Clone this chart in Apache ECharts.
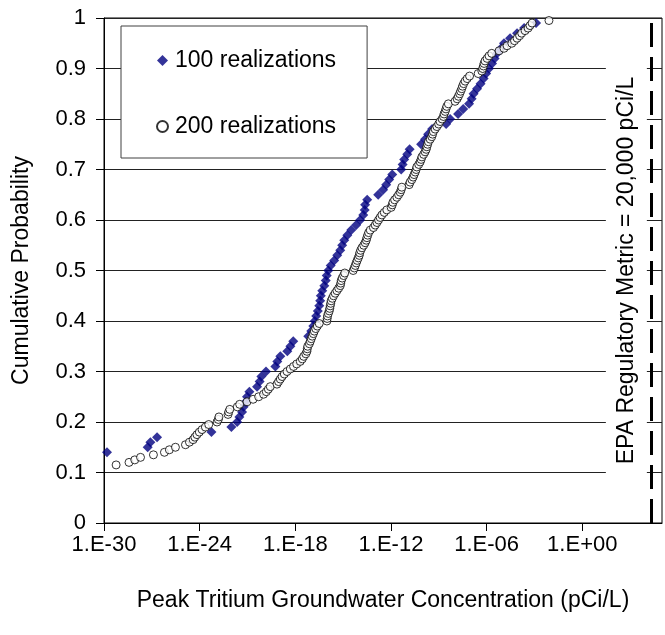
<!DOCTYPE html>
<html>
<head>
<meta charset="utf-8">
<script src="https://cdn.jsdelivr.net/npm/echarts@6/dist/echarts.min.js"></script>
<style>
html,body{margin:0;padding:0;background:#fff;}
#chart{width:665px;height:635px;}
</style>
</head>
<body>
<div id="chart"></div>
<script>
// x values are log10 of Peak Tritium Groundwater Concentration (pCi/L)
const xTickExponents = [-30, -24, -18, -12, -6, 0];
const yTicks = [0, 0.1, 0.2, 0.3, 0.4, 0.5, 0.6, 0.7, 0.8, 0.9, 1];
const epaLimit = 20000; // pCi/L
const seriesNames = ['100 realizations', '200 realizations'];

// 100 realizations
const set100P = [
  0.14, 0.15, 0.16, 0.17, 0.18, 0.19,
  0.20, 0.21, 0.22, 0.23, 0.24, 0.25, 0.26, 0.27, 0.28, 0.29,
  0.30, 0.31, 0.32, 0.33, 0.34, 0.35, 0.36, 0.37, 0.38, 0.39,
  0.40, 0.41, 0.42, 0.43, 0.44, 0.45, 0.46, 0.47, 0.48, 0.49,
  0.50, 0.51, 0.52, 0.53, 0.54, 0.55, 0.56, 0.57, 0.58, 0.59,
  0.60, 0.61, 0.62, 0.63, 0.64, 0.65, 0.66, 0.67, 0.68, 0.69,
  0.70, 0.71, 0.72, 0.73, 0.74, 0.75, 0.76, 0.77, 0.78, 0.79,
  0.80, 0.81, 0.82, 0.83, 0.84, 0.85, 0.86, 0.87, 0.88, 0.89,
  0.90, 0.91, 0.92, 0.93, 0.94, 0.95, 0.96, 0.97, 0.98, 0.99
];
const set100X = [
  -29.81, -27.26, -27.09, -26.67, -23.26, -22.01,
  -21.65, -21.51, -21.34, -21.24, -21.10, -21.03, -20.88, -20.40, -20.24, -20.13,
  -19.84, -19.25, -19.13, -18.94, -18.50, -18.31, -18.13, -17.19, -17.00, -16.87,
  -16.78, -16.69, -16.59, -16.50, -16.44, -16.40, -16.31, -16.18, -16.09, -16.03,
  -15.93, -15.78, -15.56, -15.37, -15.18, -15.06, -14.93, -14.74, -14.49, -14.18,
  -13.93, -13.74, -13.65, -13.62, -13.49, -12.80, -12.49, -12.30, -12.11, -11.92,
  -11.36, -11.27, -11.17, -10.98, -10.83, -10.11, -9.86, -9.67, -9.42, -8.54,
  -8.29, -7.79, -7.47, -7.10, -6.94, -6.82, -6.60, -6.38, -6.19, -6.03,
  -5.85, -5.66, -5.50, -5.34, -5.09, -4.91, -4.53, -4.09, -3.65, -2.90
];

// 200 realizations
const set200P = [
  0.115, 0.120, 0.125, 0.130, 0.135, 0.140, 0.145, 0.150, 0.155, 0.160, 0.165, 0.170, 0.175, 0.180, 0.185, 0.190, 0.195,
  0.200, 0.205, 0.210, 0.215, 0.220, 0.225, 0.230, 0.235, 0.240, 0.245, 0.250, 0.255, 0.260, 0.265, 0.270, 0.275, 0.280, 0.285, 0.290, 0.295,
  0.300, 0.305, 0.310, 0.315, 0.320, 0.325, 0.330, 0.335, 0.340, 0.345, 0.350, 0.355, 0.360, 0.365, 0.370, 0.375, 0.380, 0.385, 0.390, 0.395,
  0.400, 0.405, 0.410, 0.415, 0.420, 0.425, 0.430, 0.435, 0.440, 0.445, 0.450, 0.455, 0.460, 0.465, 0.470, 0.475, 0.480, 0.485, 0.490, 0.495,
  0.500, 0.505, 0.510, 0.515, 0.520, 0.525, 0.530, 0.535, 0.540, 0.545, 0.550, 0.555, 0.560, 0.565, 0.570, 0.575, 0.580, 0.585, 0.590, 0.595,
  0.600, 0.605, 0.610, 0.615, 0.620, 0.625, 0.630, 0.635, 0.640, 0.645, 0.650, 0.655, 0.660, 0.665, 0.670, 0.675, 0.680, 0.685, 0.690, 0.695,
  0.700, 0.705, 0.710, 0.715, 0.720, 0.725, 0.730, 0.735, 0.740, 0.745, 0.750, 0.755, 0.760, 0.765, 0.770, 0.775, 0.780, 0.785, 0.790, 0.795,
  0.800, 0.805, 0.810, 0.815, 0.820, 0.825, 0.830, 0.835, 0.840, 0.845, 0.850, 0.855, 0.860, 0.865, 0.870, 0.875, 0.880, 0.885, 0.890, 0.895,
  0.900, 0.905, 0.910, 0.915, 0.920, 0.925, 0.930, 0.935, 0.940, 0.945, 0.950, 0.955, 0.960, 0.965, 0.970, 0.975, 0.980, 0.985, 0.990, 0.995
];
const set200X = [
  -29.24, -28.43, -28.07, -27.71, -26.90, -26.21, -25.90, -25.52, -24.89, -24.64, -24.41, -24.30, -24.17, -24.02, -23.85, -23.64, -23.43,
  -22.91, -22.83, -22.79, -22.22, -22.18, -22.11, -21.64, -21.49, -21.03, -20.65, -20.30, -19.99, -19.82, -19.69, -19.57, -19.15, -19.05, -18.94, -18.83, -18.69,
  -18.52, -18.31, -18.11, -17.91, -17.69, -17.56, -17.47, -17.34, -17.27, -17.25, -17.22, -17.12, -17.06, -17.00, -16.94, -16.87, -16.81, -16.72, -16.62, -16.50,
  -16.02, -16.00, -15.98, -15.93, -15.87, -15.84, -15.81, -15.78, -15.75, -15.68, -15.60, -15.50, -15.39, -15.28, -15.18, -15.15, -15.12, -15.06, -14.97, -14.90,
  -14.37, -14.30, -14.24, -14.18, -14.12, -14.05, -13.99, -13.96, -13.90, -13.82, -13.71, -13.62, -13.55, -13.51, -13.46, -13.40, -13.30, -13.10, -12.99, -12.88,
  -12.78, -12.68, -12.57, -12.42, -12.26, -11.99, -11.92, -11.88, -11.77, -11.63, -11.52, -11.42, -11.36, -11.32, -10.86, -10.80, -10.69, -10.61, -10.55, -10.48,
  -10.42, -10.38, -10.26, -10.17, -10.11, -10.06, -9.95, -9.86, -9.79, -9.75, -9.70, -9.65, -9.54, -9.44, -9.39, -9.34, -9.23, -9.12, -9.01, -8.92,
  -8.79, -8.71, -8.67, -8.60, -8.55, -8.50, -8.40, -7.98, -7.85, -7.77, -7.69, -7.63, -7.56, -7.51, -7.44, -7.35, -7.22, -7.07, -6.53, -6.30,
  -6.25, -6.20, -6.16, -6.10, -5.97, -5.85, -5.68, -5.22, -4.91, -4.72, -4.42, -4.25, -4.09, -3.93, -3.80, -3.59, -3.40, -3.28, -3.15, -2.09
];

function pairs(xs, ps) { return xs.map((x, i) => [x, ps[i]]); }
function expLabel(v) {
  const a = Math.abs(Math.round(v));
  return '1.E' + (v < 0 ? '-' : '+') + (a < 10 ? '0' + a : '' + a);
}

const FONT = 'Liberation Sans, Arial, sans-serif';
const chart = echarts.init(document.getElementById('chart'), null, {renderer: 'canvas'});
const epaExp = Math.log10(epaLimit);

chart.setOption({
  animation: false,
  backgroundColor: '#fff',
  textStyle: {fontFamily: FONT, color: '#000'},
  grid: {left: 104, right: 3, top: 18, bottom: 112, show: true, borderColor: '#000', borderWidth: 1, backgroundColor: 'transparent'},
  legend: {
    orient: 'vertical', left: 121, top: 26,
    padding: [23, 31, 20, 35], itemGap: 43,
    itemWidth: 11, itemHeight: 11,
    backgroundColor: '#fff', borderColor: '#404040', borderWidth: 1,
    textStyle: {fontSize: 23, fontFamily: FONT, color: '#000', lineHeight: 23, padding: [0, 0, 0, 2]},
    data: seriesNames
  },
  xAxis: {
    type: 'value', min: -30, max: 5, interval: 6,
    axisLine: {show: true, onZero: false, lineStyle: {color: '#000', width: 1}},
    axisTick: {show: true, length: 8, lineStyle: {color: '#000'}, customValues: xTickExponents},
    axisLabel: {
      customValues: xTickExponents,
      margin: 11, fontSize: 22, fontFamily: FONT, color: '#000',
      formatter: v => (xTickExponents.indexOf(v) >= 0 ? expLabel(v) : '')
    },
    splitLine: {show: false},
    name: 'Peak Tritium Groundwater Concentration (pCi/L)',
    nameLocation: 'middle', nameGap: 66,
    nameTextStyle: {fontSize: 23, fontFamily: FONT, color: '#000'}
  },
  yAxis: {
    type: 'value', min: 0, max: 1, interval: 0.1,
    axisLine: {show: true, onZero: false, lineStyle: {color: '#000', width: 1}},
    axisTick: {show: true, length: 8, lineStyle: {color: '#000'}},
    axisLabel: {margin: 18, fontSize: 22, fontFamily: FONT, color: '#000',
      formatter: v => String(Math.round(v * 10) / 10)},
    splitLine: {show: true, lineStyle: {color: '#222', width: 1}},
    name: 'Cumulative Probability',
    nameLocation: 'middle', nameGap: 71,
    nameTextStyle: {fontSize: 23, fontFamily: FONT, color: '#000'}
  },
  series: [
    {
      name: seriesNames[0], type: 'scatter',
      symbol: 'diamond', symbolSize: 10,
      itemStyle: {color: '#000080'},
      data: pairs(set100X, set100P),
      markLine: {
        silent: true, symbol: ['none', 'none'],
        lineStyle: {color: '#000', width: 3, type: [24, 10]},
        label: {
          show: true, position: 'middle', distance: 4,
          formatter: 'EPA Regulatory Metric = 20,000 pCi/L',
          fontSize: 23, fontFamily: FONT, color: '#000',
          backgroundColor: '#fff', padding: [9, 15]
        },
        data: [[{coord: [epaExp, 0]}, {coord: [epaExp, 1]}]]
      }
    },
    {
      name: seriesNames[1], type: 'scatter',
      symbol: 'circle', symbolSize: 8,
      itemStyle: {color: '#fff', borderColor: '#000', borderWidth: 1},
      data: pairs(set200X, set200P)
    }
  ]
});
</script>
</body>
</html>
